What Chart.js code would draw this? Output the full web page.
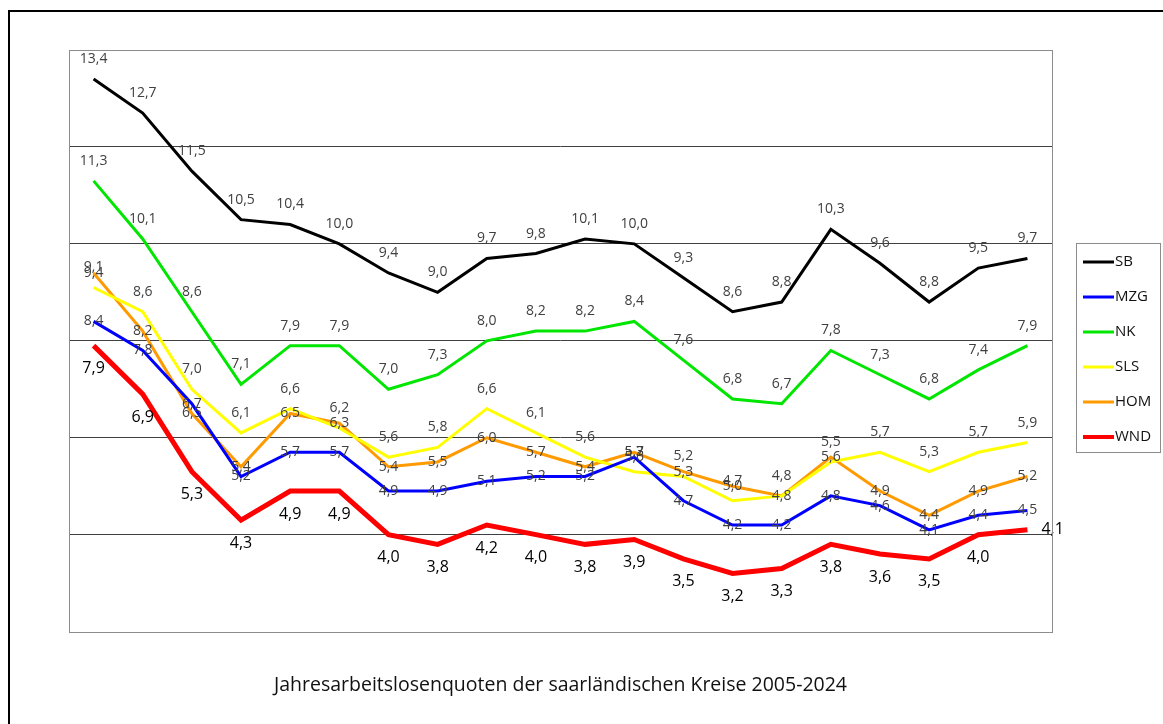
<!DOCTYPE html>
<html>
<head>
<meta charset="utf-8">
<script src="https://cdn.jsdelivr.net/npm/chart.js@4.4.1/dist/chart.umd.min.js"></script>
<style>
  html, body { margin: 0; padding: 0; background: #fff; }
  #wrap { width: 1163px; height: 724px; }
</style>
</head>
<body>
<div id="wrap"><canvas id="quoten" width="1163" height="724"></canvas></div>
<script>
// Jahre und Quoten (in %) pro Kreis
const jahre = ['2005', '2006', '2007', '2008', '2009', '2010', '2011', '2012', '2013', '2014',
               '2015', '2016', '2017', '2018', '2019', '2020', '2021', '2022', '2023', '2024'];
const sb  = [13.4, 12.7, 11.5, 10.5, 10.4, 10.0, 9.4, 9.0, 9.7, 9.8, 10.1, 10.0, 9.3, 8.6, 8.8, 10.3, 9.6, 8.8, 9.5, 9.7];
const mzg = [8.4, 7.8, 6.7, 5.2, 5.7, 5.7, 4.9, 4.9, 5.1, 5.2, 5.2, 5.6, 4.7, 4.2, 4.2, 4.8, 4.6, 4.1, 4.4, 4.5];
const nk  = [11.3, 10.1, 8.6, 7.1, 7.9, 7.9, 7.0, 7.3, 8.0, 8.2, 8.2, 8.4, 7.6, 6.8, 6.7, 7.8, 7.3, 6.8, 7.4, 7.9];
const sls = [9.1, 8.6, 7.0, 6.1, 6.6, 6.2, 5.6, 5.8, 6.6, 6.1, 5.6, 5.3, 5.2, 4.7, 4.8, 5.5, 5.7, 5.3, 5.7, 5.9];
const hom = [9.4, 8.2, 6.5, 5.4, 6.5, 6.3, 5.4, 5.5, 6.0, 5.7, 5.4, 5.7, 5.3, 5.0, 4.8, 5.6, 4.9, 4.4, 4.9, 5.2];
const wnd = [7.9, 6.9, 5.3, 4.3, 4.9, 4.9, 4.0, 3.8, 4.2, 4.0, 3.8, 3.9, 3.5, 3.2, 3.3, 3.8, 3.6, 3.5, 4.0, 4.1];

const titel = 'Jahresarbeitslosenquoten der saarländischen Kreise 2005-2024';

// wo das Zahlenlabel relativ zum Punkt sitzt
const labelLage = { SB: 'oben', MZG: 'mitte', NK: 'oben', SLS: 'oben', HOM: 'mitte', WND: 'unten' };

function reihe(label, data, color, width) {
    return {
        label: label,
        data: data,
        borderColor: color,
        backgroundColor: color,
        borderWidth: width,
        pointRadius: 0,
        tension: 0,
        fill: false
    };
}

const werteLabels = {
    id: 'werteLabels',
    afterDatasetsDraw(chart) {
        const ctx = chart.ctx;
        ctx.save();
        ctx.textAlign = 'center';
        ctx.textBaseline = 'middle';
        chart.data.datasets.forEach((ds, i) => {
            const meta = chart.getDatasetMeta(i);
            const lage = labelLage[ds.label];
            const istWnd = ds.label === 'WND';
            ctx.font = istWnd ? '16px "Open Sans"' : '14px "Open Sans"';
            ctx.fillStyle = istWnd ? '#000' : '#404040';
            meta.data.forEach((pt, j) => {
                const txt = ds.data[j].toFixed(1).replace('.', ',');
                let x = pt.x, y = pt.y;
                if (istWnd && j === ds.data.length - 1) {
                    ctx.textAlign = 'left';
                    x += 14;
                } else {
                    ctx.textAlign = 'center';
                    if (lage === 'oben') y -= 20;
                    if (lage === 'unten') y += 23;
                }
                ctx.fillText(txt, x, y);
            });
        });
        ctx.restore();
    }
};

const rahmenUndLegende = {
    id: 'rahmenUndLegende',
    afterDraw(chart) {
        const ctx = chart.ctx;
        const a = chart.chartArea;
        ctx.save();
        // Rahmen um die Zeichenfläche
        ctx.strokeStyle = '#8c8c8c';
        ctx.lineWidth = 1;
        ctx.strokeRect(Math.round(a.left) + 0.5, Math.round(a.top) + 0.5,
                       Math.round(a.right - a.left), Math.round(a.bottom - a.top));
        // äußerer Rahmen
        ctx.strokeStyle = '#000';
        ctx.lineWidth = 2;
        ctx.beginPath();
        ctx.moveTo(9, 724);
        ctx.lineTo(9, 11);
        ctx.lineTo(1163, 11);
        ctx.stroke();
        // Legende
        const lx = 1076, ly = 243, lw = 84, lh = 209;
        ctx.strokeStyle = '#8c8c8c';
        ctx.lineWidth = 1;
        ctx.strokeRect(lx + 0.5, ly + 0.5, lw, lh);
        ctx.font = '15px "Open Sans"';
        ctx.textAlign = 'left';
        ctx.textBaseline = 'middle';
        chart.data.datasets.forEach((ds, i) => {
            const y = ly + 19 + i * 35;
            ctx.strokeStyle = ds.borderColor;
            ctx.lineWidth = ds.label === 'WND' ? 4 : 3;
            ctx.beginPath();
            ctx.moveTo(lx + 7, y);
            ctx.lineTo(lx + 38, y);
            ctx.stroke();
            ctx.fillStyle = '#111';
            ctx.fillText(ds.label, lx + 39, y);
        });
        ctx.restore();
    }
};

new Chart(document.getElementById('quoten'), {
    type: 'line',
    data: {
        labels: jahre,
        datasets: [
            reihe('SB', sb, '#000000', 3),
            reihe('MZG', mzg, '#0000ff', 3),
            reihe('NK', nk, '#00e600', 3),
            reihe('SLS', sls, '#ffff00', 3),
            reihe('HOM', hom, '#ff9a00', 3),
            reihe('WND', wnd, '#ff0000', 5)
        ]
    },
    options: {
        responsive: false,
        animation: false,
        layout: { padding: { left: 69, top: 50, right: 111, bottom: 18 } },
        plugins: {
            legend: { display: false },
            tooltip: { enabled: false },
            title: {
                display: true,
                position: 'bottom',
                text: titel,
                color: '#111',
                font: { family: 'Open Sans', size: 19.5, weight: 'normal' },
                padding: { top: 34, bottom: 9 }
            }
        },
        scales: {
            x: {
                offset: true,
                grid: { display: false },
                border: { display: false },
                ticks: { display: false }
            },
            y: {
                min: 2,
                max: 14,
                ticks: { display: false, stepSize: 2 },
                border: { display: false },
                grid: {
                    drawTicks: false,
                    color: c => (c.tick && (c.tick.value === 2 || c.tick.value === 14)) ? 'rgba(0,0,0,0)' : '#404040'
                }
            }
        }
    },
    plugins: [werteLabels, rahmenUndLegende]
});
</script>
</body>
</html>
